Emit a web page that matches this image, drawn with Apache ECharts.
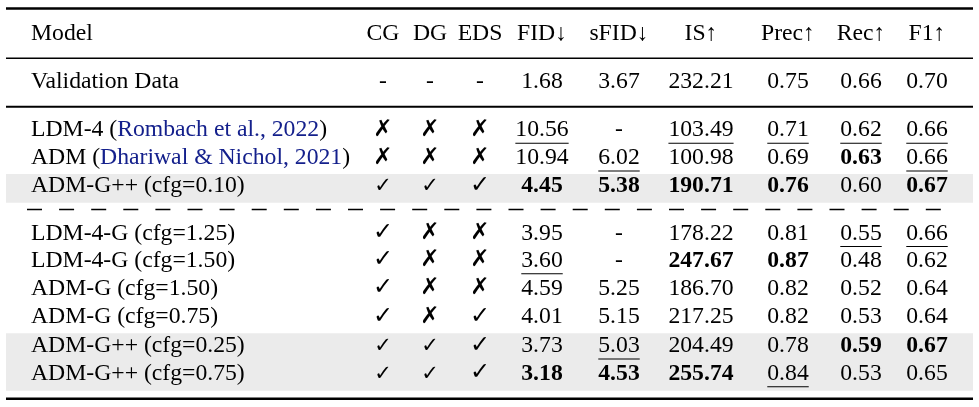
<!DOCTYPE html>
<html>
<head>
<meta charset="utf-8">
<script src="https://cdn.jsdelivr.net/npm/echarts@6/dist/echarts.min.js"></script>
<style>
  html, body { margin: 0; padding: 0; background: #fff; }
  #main { width: 979px; height: 407px; }
</style>
</head>
<body>
<div id="main"></div>
<script>
// ---- table content ----
var headers = ['Model', 'CG', 'DG', 'EDS', 'FID\u2193', 'sFID\u2193', 'IS\u2191', 'Prec\u2191', 'Rec\u2191', 'F1\u2191'];

var models = ['Validation Data', 'LDM-4', 'ADM', 'ADM-G++ (cfg=0.10)',
  'LDM-4-G (cfg=1.25)', 'LDM-4-G (cfg=1.50)', 'ADM-G (cfg=1.50)', 'ADM-G (cfg=0.75)',
  'ADM-G++ (cfg=0.25)', 'ADM-G++ (cfg=0.75)'];
var citations = ['', 'Rombach et al., 2022', 'Dhariwal & Nichol, 2021', '', '', '', '', '', '', ''];

// y = big check, s = small check, n = cross
var cg  = ['-', 'n', 'n', 's', 'y', 'y', 'y', 'y', 's', 's'];
var dg  = ['-', 'n', 'n', 's', 'n', 'n', 'n', 'n', 's', 's'];
var eds = ['-', 'n', 'n', 'y', 'n', 'n', 'n', 'y', 'y', 'y'];

var fid  = ['1.68', '10.56', '10.94', '4.45', '3.95', '3.60', '4.59', '4.01', '3.73', '3.18'];
var sfid = ['3.67', '-', '6.02', '5.38', '-', '-', '5.25', '5.15', '5.03', '4.53'];
var is   = ['232.21', '103.49', '100.98', '190.71', '178.22', '247.67', '186.70', '217.25', '204.49', '255.74'];
var prec = ['0.75', '0.71', '0.69', '0.76', '0.81', '0.87', '0.82', '0.82', '0.78', '0.84'];
var rec  = ['0.66', '0.62', '0.63', '0.60', '0.55', '0.48', '0.52', '0.53', '0.59', '0.53'];
var f1   = ['0.70', '0.66', '0.66', '0.67', '0.66', '0.62', '0.64', '0.64', '0.67', '0.65'];

// b = bold (best), u = underline (second best)
var fidMark  = ['', 'u', '', 'b', '', 'u', '', '', '', 'b'];
var sfidMark = ['', '', 'u', 'b', '', '', '', '', 'u', 'b'];
var isMark   = ['', 'u', '', 'b', '', 'b', '', '', '', 'b'];
var precMark = ['', 'u', '', 'b', '', 'b', '', '', '', 'u'];
var recMark  = ['', 'u', 'b', '', 'u', '', '', '', 'b', ''];
var f1Mark   = ['', 'u', 'u', 'b', 'u', '', '', '', 'b', ''];

// ---- layout ----
var colX = [31, 383, 430, 480, 542, 619, 701, 788, 861, 927];
var headerY = 41.5;
var rowY = [90, 138.3, 166, 194.3, 241.5, 268.8, 296.7, 325, 354, 381.7];
var FONT = '"Liberation Serif", "Times New Roman", serif';
var SYM = '"DejaVu Sans", sans-serif';
var FS = 23.7;
var BLUE = '#14208c';

var ctx = document.createElement('canvas').getContext('2d');
function textWidth(t, bold) {
  ctx.font = (bold ? 'bold ' : '') + FS + 'px ' + FONT;
  return ctx.measureText(t).width;
}

// build cells
var cells = [];
headers.forEach(function (h, c) {
  cells.push({ col: c, y: headerY, text: h, kind: 'text', left: c === 0 });
});
var marks = [cg, dg, eds];
var nums = [fid, sfid, is, prec, rec, f1];
var numMarks = [fidMark, sfidMark, isMark, precMark, recMark, f1Mark];
models.forEach(function (m, r) {
  cells.push({ col: 0, y: rowY[r], text: m, cite: citations[r], kind: 'model', left: true });
  marks.forEach(function (arr, k) {
    cells.push({ col: 1 + k, y: rowY[r], text: arr[r], kind: arr[r] === '-' ? 'text' : 'sym' });
  });
  nums.forEach(function (arr, k) {
    var st = numMarks[k][r];
    cells.push({ col: 4 + k, y: rowY[r], text: arr[r], kind: 'text', bold: st === 'b', under: st === 'u' });
  });
});

var cellData = cells.map(function (c, i) { return [colX[c.col], c.y, i]; });

var symbolText = { y: '\u2713', s: '\u2713', n: '\u2717' };
var symbolSize = { y: 24, s: 21, n: 23 };

function renderCell(params, api) {
  var cell = cells[api.value(2)];
  var p = api.coord([api.value(0), api.value(1)]);
  var children = [];
  if (cell.kind === 'sym') {
    var fsz = symbolSize[cell.text];
    children.push({
      type: 'text', x: p[0], y: p[1] - fsz * 0.36,
      style: {
        text: symbolText[cell.text], fontFamily: SYM, fontSize: fsz,
        fontWeight: 'bold', fill: '#000', align: 'center', verticalAlign: 'middle'
      }
    });
  } else if (cell.kind === 'model') {
    var txt = cell.cite ? cell.text + ' ({c|' + cell.cite + '})' : cell.text;
    children.push({
      type: 'text', x: p[0], y: p[1] - FS * 0.34,
      style: {
        text: txt, fontFamily: FONT, fontSize: FS, fill: '#000',
        align: 'left', verticalAlign: 'middle', lineHeight: FS,
        rich: { c: { fill: BLUE, fontFamily: FONT, fontSize: FS, lineHeight: FS } }
      }
    });
  } else {
    children.push({
      type: 'text', x: p[0], y: p[1] - FS * 0.34,
      style: {
        text: cell.text, fontFamily: FONT, fontSize: FS,
        fontWeight: cell.bold ? 'bold' : 'normal', fill: '#000',
        align: cell.left ? 'left' : 'center', verticalAlign: 'middle'
      }
    });
    if (cell.under) {
      var w = textWidth(cell.text, cell.bold);
      children.push({
        type: 'line',
        shape: { x1: p[0] - w / 2, y1: p[1] + 5, x2: p[0] + w / 2, y2: p[1] + 5 },
        style: { stroke: '#000', lineWidth: 1.1 }
      });
    }
  }
  return { type: 'group', children: children };
}

// rules: [y, width, dashed]
var rules = [[8.5, 2.5, 0], [58.3, 1.4, 0], [106.8, 1.9, 0], [209.5, 1.4, 1], [398.8, 2.5, 0]];
var bands = [[174, 202.7], [333.3, 390.7]];
var tableLeft = 6, tableRight = 973;

var chart = echarts.init(document.getElementById('main'));
chart.setOption({
  backgroundColor: '#fff',
  animation: false,
  grid: { left: 0, right: 0, top: 0, bottom: 0 },
  xAxis: { type: 'value', min: 0, max: 979, show: false },
  yAxis: { type: 'value', min: 0, max: 407, inverse: true, show: false },
  series: [
    {
      type: 'custom', name: 'bands', silent: true, z: 1,
      data: bands,
      renderItem: function (params, api) {
        var a = api.coord([tableLeft, api.value(0)]);
        var b = api.coord([tableRight, api.value(1)]);
        return { type: 'rect', shape: { x: a[0], y: a[1], width: b[0] - a[0], height: b[1] - a[1] },
                 style: { fill: '#ebebeb' } };
      }
    },
    {
      type: 'custom', name: 'rules', silent: true, z: 2,
      data: rules,
      renderItem: function (params, api) {
        var dashed = api.value(2) === 1;
        var a = api.coord([dashed ? 27 : tableLeft, api.value(0)]);
        var b = api.coord([dashed ? 953 : tableRight, api.value(0)]);
        return { type: 'line', shape: { x1: a[0], y1: a[1], x2: b[0], y2: b[1] },
                 style: { stroke: '#000', lineWidth: api.value(1), lineDash: dashed ? [15, 17.1] : null } };
      }
    },
    {
      type: 'custom', name: 'cells', silent: true, z: 3,
      data: cellData,
      renderItem: renderCell
    }
  ]
});
</script>
</body>
</html>
